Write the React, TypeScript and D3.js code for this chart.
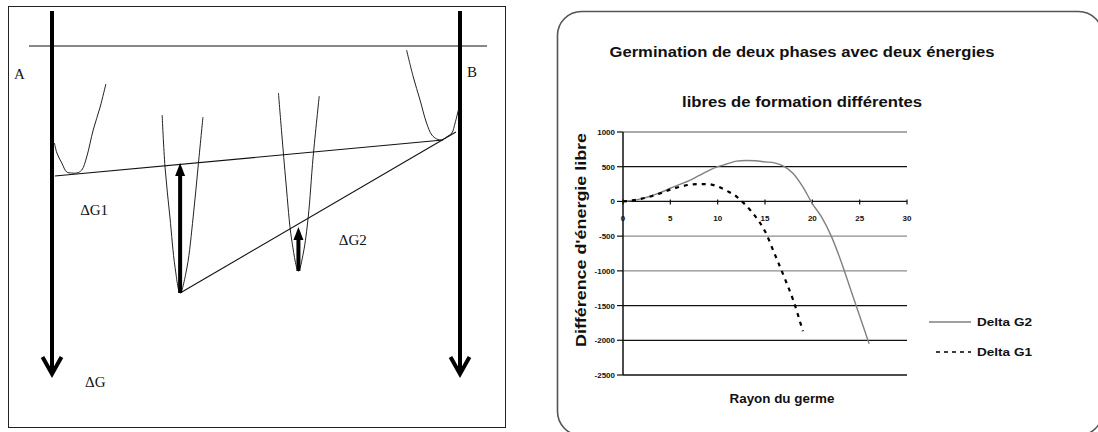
import React from 'react';
import * as d3 from 'd3';

// ---------- Right chart data ----------
const radiusG2 = [0, 1, 2, 3, 4, 5, 6, 7, 8, 9, 10, 11, 12, 13, 14, 15, 16, 17, 18, 19, 20, 21, 22, 23, 24, 25, 26];
const deltaG2 = [0, 15, 40, 80, 130, 190, 245, 300, 370, 440, 500, 540, 580, 590, 585, 570, 555, 505, 400, 210, -30, -230, -500, -850, -1250, -1650, -2050];
const radiusG1 = [0, 1, 2, 3, 4, 5, 6, 7, 8, 9, 10, 11, 12, 13, 14, 15, 16, 17, 18, 19];
const deltaG1 = [0, 15, 40, 75, 120, 170, 210, 240, 250, 250, 215, 150, 70, -60, -220, -430, -750, -1080, -1430, -1870];
const yTicks = [1000, 500, 0, -500, -1000, -1500, -2000, -2500];
const xTicks = [0, 5, 10, 15, 20, 25, 30];
const seriesNames = ['Delta G2', 'Delta G1'];
const chartTitle = ['Germination de deux phases avec deux énergies', 'libres de formation différentes'];
const xTitle = 'Rayon du germe';
const yTitle = "Différence d'énergie libre";

// ---------- Left schematic data (composition %, energy units) ----------
const curveA: [number, number][] = [[0.6, -97], [1.2, -107], [2.4, -117], [3.6, -126], [4.8, -127], [6.1, -127], [7.3, -124], [8.5, -111], [10.1, -84], [11.8, -61], [13.2, -38]];
const wellBeta1: [number, number][] = [[27.0, -69], [27.7, -121], [28.9, -171], [30.15, -221], [31.4, -247], [33.1, -221], [34.6, -171], [35.8, -121], [37.0, -71]];
const wellBeta2: [number, number][] = [[55.5, -47], [56.3, -87], [57.35, -137], [58.75, -194], [60.4, -225], [61.6, -207], [62.8, -171], [64.0, -111], [65.5, -50]];
const curveB: [number, number][] = [[86.9, -4], [88.55, -31], [90.2, -54], [91.8, -77], [93.1, -89], [94.3, -93], [95.5, -94], [96.7, -91], [98.0, -87], [98.8, -77], [99.6, -64]];
const tangent1: [number, number][] = [[0.7, -130], [95.8, -94]];
const tangent2: [number, number][] = [[31.4, -247], [99.0, -86]];
const upArrows = [
  { c: 31.4, from: -247, to: -117 },
  { c: 60.4, from: -225, to: -181 },
];
const axisArrows = [0, 100];
const schematicLabels = [
  { t: 'A', c: -9.3, e: -33 },
  { t: 'B', c: 101.7, e: -31 },
  { t: 'ΔG1', c: 6.9, e: -169 },
  { t: 'ΔG2', c: 70.3, e: -199 },
  { t: 'ΔG', c: 8.1, e: -341 },
];

export default function App() {
  // schematic scales
  const xc = d3.scaleLinear().domain([0, 100]).range([52, 460]);
  const ye = d3.scaleLinear().domain([0, -330]).range([46, 376]);
  const sLine = d3.line<[number, number]>().x(d => xc(d[0])).y(d => ye(d[1])).curve(d3.curveCatmullRom.alpha(0.5));
  const straight = d3.line<[number, number]>().x(d => xc(d[0])).y(d => ye(d[1]));

  // chart scales
  const x = d3.scaleLinear().domain([0, 30]).range([623, 907]);
  const y = d3.scaleLinear().domain([-2500, 1000]).range([375, 132]);
  const line = d3.line<number>().curve(d3.curveMonotoneX);
  const g2Path = d3.line<number>().x((_, i) => x(radiusG2[i])).y(d => y(d)).curve(d3.curveMonotoneX)(deltaG2);
  const g1Path = d3.line<number>().x((_, i) => x(radiusG1[i])).y(d => y(d)).curve(d3.curveMonotoneX)(deltaG1);
  void line;

  const gridStroke: Record<number, string> = { 1000: '#8c8c8c', [-500]: '#8c8c8c', [-1000]: '#8c8c8c' };
  const sans = '"Liberation Sans", Arial, sans-serif';
  const serif = '"Liberation Serif", "Times New Roman", serif';

  return (
    <svg width={1098} height={432} style={{ position: 'absolute', left: 0, top: 0, background: '#fff' }}>
      <rect x={0} y={0} width={1098} height={432} fill="#fff" />
      {/* ---------- Left schematic ---------- */}
      <rect x={8.5} y={6.5} width={497} height={421} fill="none" stroke="#222" strokeWidth={1} />
      <line x1={29} x2={487} y1={ye(0)} y2={ye(0)} stroke="#111" strokeWidth={1} />
      {axisArrows.map(c => (
        <g key={c}>
          <line x1={xc(c)} x2={xc(c)} y1={ye(35)} y2={ye(-328)} stroke="#000" strokeWidth={4} />
          <polyline
            points={`${xc(c) - 9.5},${ye(-311)} ${xc(c)},${ye(-328)} ${xc(c) + 9.5},${ye(-311)}`}
            fill="none" stroke="#000" strokeWidth={4} strokeLinejoin="miter"
          />
        </g>
      ))}
      {[curveA, wellBeta1, wellBeta2, curveB].map((pts, i) => (
        <path key={i} d={sLine(pts) || ''} fill="none" stroke="#222" strokeWidth={1} />
      ))}
      <path d={straight(tangent1) || ''} fill="none" stroke="#111" strokeWidth={1.1} />
      <path d={straight(tangent2) || ''} fill="none" stroke="#111" strokeWidth={1.1} />
      {upArrows.map((a, i) => {
        const cx = xc(a.c);
        const top = ye(a.to);
        const hh = 13;
        return (
          <g key={i}>
            <line x1={cx} x2={cx} y1={ye(a.from)} y2={top + hh - 1} stroke="#000" strokeWidth={4} />
            <polygon points={`${cx},${top} ${cx - 5},${top + hh} ${cx + 5},${top + hh}`} fill="#000" />
          </g>
        );
      })}
      {schematicLabels.map(l => (
        <text key={l.t} x={xc(l.c)} y={ye(l.e)} fontFamily={serif} fontSize={15} fill="#111">{l.t}</text>
      ))}

      {/* ---------- Right chart ---------- */}
      <rect x={557.5} y={11.5} width={545} height={424} rx={24} ry={24} fill="#fff" stroke="#555" strokeWidth={1.6} />
      {chartTitle.map((t, i) => (
        <text key={i} x={802} y={57 + i * 50} textAnchor="middle" fontFamily={sans} fontWeight="bold" fontSize={14}
          textLength={i === 0 ? 385 : 240} lengthAdjust="spacingAndGlyphs" fill="#111">{t}</text>
      ))}
      {yTicks.map(v => (
        <g key={v}>
          <line x1={x(0)} x2={x(30)} y1={y(v)} y2={y(v)} stroke={gridStroke[v] || '#111'} strokeWidth={1.3} />
          <line x1={617} x2={x(0)} y1={y(v)} y2={y(v)} stroke="#111" strokeWidth={1.2} />
          <text x={615} y={y(v) + 3} textAnchor="end" fontFamily={sans} fontWeight="bold" fontSize={8} fill="#111">{v}</text>
        </g>
      ))}
      <line x1={x(0)} x2={x(0)} y1={y(1000)} y2={y(-2500)} stroke="#111" strokeWidth={1.5} />
      {xTicks.map(v => (
        <g key={v}>
          <line x1={x(v)} x2={x(v)} y1={y(0) - 2} y2={y(0) + 3} stroke="#111" strokeWidth={1.2} />
          <text x={x(v)} y={y(0) + 20} textAnchor="middle" fontFamily={sans} fontWeight="bold" fontSize={8} fill="#111">{v}</text>
        </g>
      ))}
      <path d={g2Path || ''} fill="none" stroke="#808080" strokeWidth={1.4} />
      <path d={g1Path || ''} fill="none" stroke="#000" strokeWidth={2.2} strokeDasharray="4,5" />
      <text x={782} y={403} textAnchor="middle" fontFamily={sans} fontWeight="bold" fontSize={12}
        textLength={105} lengthAdjust="spacingAndGlyphs" fill="#111">{xTitle}</text>
      <text transform="translate(586,240) rotate(-90)" textAnchor="middle" fontFamily={sans} fontWeight="bold" fontSize={15}
        textLength={214} lengthAdjust="spacingAndGlyphs" fill="#111">{yTitle}</text>
      {/* legend */}
      <line x1={929} x2={971} y1={322} y2={322} stroke="#808080" strokeWidth={1.5} />
      <line x1={936} x2={971} y1={352} y2={352} stroke="#000" strokeWidth={1.5} strokeDasharray="4,4" />
      {seriesNames.map((s, i) => (
        <text key={s} x={977} y={326 + i * 30} fontFamily={sans} fontWeight="bold" fontSize={11.5}
          textLength={55} lengthAdjust="spacingAndGlyphs" fill="#111">{s}</text>
      ))}
    </svg>
  );
}
